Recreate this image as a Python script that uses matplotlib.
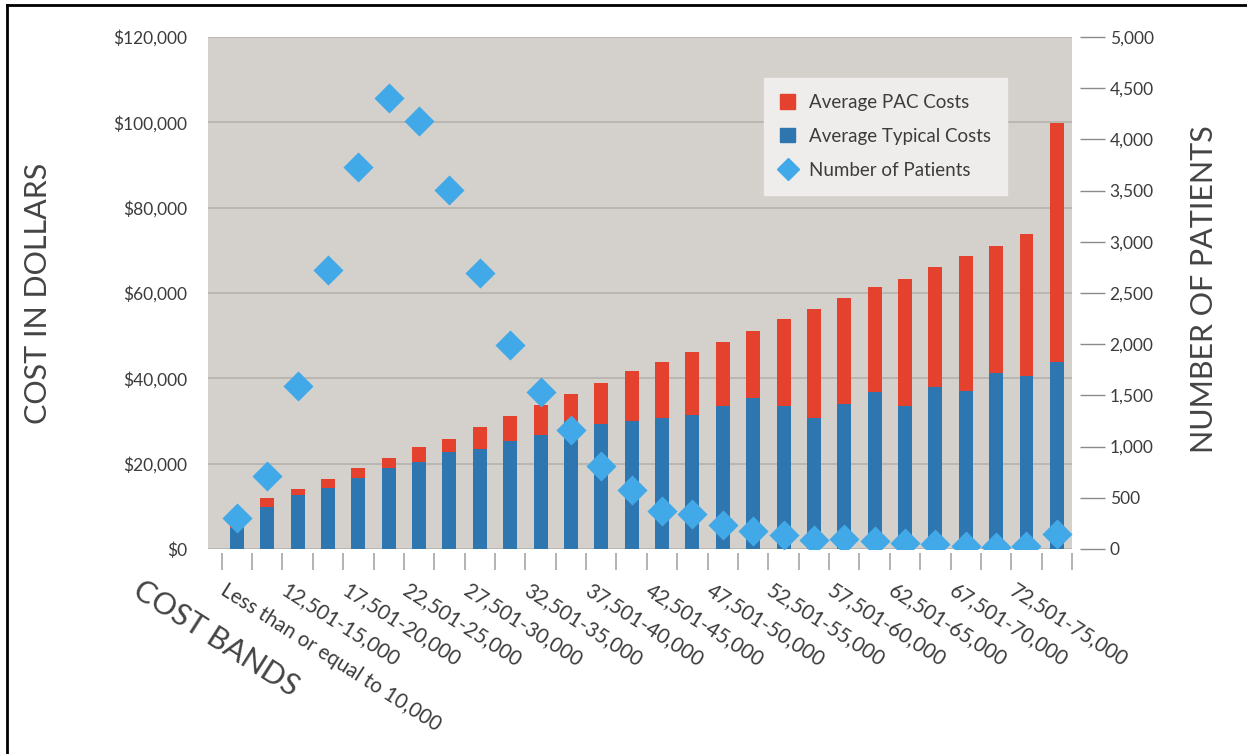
import numpy as np
import matplotlib
matplotlib.use("Agg")
import matplotlib.pyplot as plt
from matplotlib.lines import Line2D
from matplotlib.patches import Patch
from matplotlib.transforms import blended_transform_factory

plt.rcParams['font.family'] = ['Lato', 'DejaVu Sans']

# cost bands, $2,500 wide between the two open-ended ends
bands = ['Less than or equal to 10,000', '10,001-12,500', '12,501-15,000',
         '15,001-17,500', '17,501-20,000', '20,001-22,500', '22,501-25,000',
         '25,001-27,500', '27,501-30,000', '30,001-32,500', '32,501-35,000',
         '35,001-37,500', '37,501-40,000', '40,001-42,500', '42,501-45,000',
         '45,001-47,500', '47,501-50,000', '50,001-52,500', '52,501-55,000',
         '55,001-57,500', '57,501-60,000', '60,001-62,500', '62,501-65,000',
         '65,001-67,500', '67,501-70,000', '70,001-72,500', '72,501-75,000',
         'Greater than 75,000']

typical_costs = [5000, 9900, 12700, 14400, 16700, 18900, 20300, 22800, 23500,
                 25200, 26700, 30000, 29400, 29900, 30800, 31300, 33500, 35300,
                 33500, 30700, 33900, 36700, 33500, 37900, 37100, 41200, 40600,
                 43800]
pac_costs = [1000, 2000, 1400, 1900, 2200, 2400, 3700, 2900, 5000, 6000, 7100,
             6300, 9500, 11800, 13100, 14800, 15000, 15800, 20400, 25500, 24900,
             24800, 29800, 28200, 31600, 29900, 33200, 56100]
patients = [300, 715, 1590, 2725, 3730, 4400, 4180, 3505, 2695, 1990, 1535,
            1160, 810, 575, 375, 340, 235, 180, 140, 90, 100, 75, 55, 45, 30,
            20, 25, 145]

cost_ticks = [0, 20000, 40000, 60000, 80000, 100000, 120000]
patient_ticks = list(range(0, 5001, 500))

RED = '#e5412f'
BLUE = '#2e76b0'
SKY = '#41a9e8'
BG = '#d4d1cd'
TXT = '#3c3c3c'

fig = plt.figure(figsize=(12.47, 7.54), dpi=100)
ax = fig.add_axes([0.1668, 0.2719, 0.6929, 0.6791])
ax.set_facecolor(BG)
x = np.arange(len(bands))

ax.bar(x, typical_costs, width=0.46, color=BLUE, zorder=2)
ax.bar(x, pac_costs, width=0.46, bottom=typical_costs, color=RED, zorder=2)

ax.set_xlim(-0.95, len(bands) - 0.5)
ax.set_ylim(0, 120000)
ax.set_yticks(cost_ticks)
ax.set_yticklabels(['${:,}'.format(v) for v in cost_ticks])
ax.yaxis.grid(True, color='#b5b2ae', linewidth=1.2, zorder=1)
ax.set_axisbelow(True)
ax.tick_params(axis='y', length=0, pad=15, labelsize=12.5, labelcolor=TXT)
for s in ax.spines.values():
    s.set_visible(False)

# tick marks sit on the band boundaries, labels on every other band
ax.set_xticks(np.arange(-0.5, len(bands)), minor=True)
ax.set_xticks([])
ax.spines['bottom'].set_position(('outward', 3))
ax.tick_params(axis='x', which='minor', length=12, width=1.2, color='#a5a5a5')
trans = blended_transform_factory(ax.transData, ax.transAxes)
for i in range(0, len(bands) - 1, 2):
    ax.text(i - 0.3, -0.06, bands[i], transform=trans, rotation=-32.5,
            rotation_mode='anchor', ha='left', va='top', fontsize=14.8,
            color=TXT)

ax.set_ylabel('COST IN DOLLARS', fontsize=22, color='#444444')
ax.yaxis.set_label_coords(-0.181, 0.5)

ax2 = ax.twinx()
ax2.scatter(x, patients, marker='D', s=235, color=SKY, zorder=3, linewidths=0)
ax2.set_ylim(0, 5000)
ax2.set_yticks(patient_ticks)
ax2.set_yticklabels(['{:,}'.format(v) for v in patient_ticks])
for s in ax2.spines.values():
    s.set_visible(False)
ax2.spines['right'].set_position(('outward', 6))
ax2.tick_params(axis='y', length=18, width=1.0, color='#8a8a8a', pad=3,
                labelsize=12.5, labelcolor=TXT)
ax2.set_ylabel('NUMBER OF PATIENTS', fontsize=22, color='#444444')
ax2.yaxis.set_label_coords(1.137, 0.508)

handles = [Patch(color=RED, label='Average PAC Costs'),
           Patch(color=BLUE, label='Average Typical Costs'),
           Line2D([], [], marker='D', linestyle='none', markersize=11,
                  color=SKY, label='Number of Patients')]
leg = ax2.legend(handles=handles, loc='upper right',
                 bbox_to_anchor=(0.925, 0.92), borderaxespad=0, fontsize=13.5,
                 frameon=True, fancybox=False, handlelength=0.8,
                 handleheight=0.8, labelspacing=0.9, borderpad=0.85,
                 handletextpad=0.75)
leg.get_frame().set_facecolor('#eeedeb')
leg.get_frame().set_edgecolor('#eeedeb')
leg.get_frame().set_alpha(1)
for t in leg.get_texts():
    t.set_color(TXT)

fig.text(0.115, 0.236, 'COST BANDS', rotation=-32.5, rotation_mode='anchor',
         ha='left', va='top', fontsize=22, color='#444444')

# page frame
fig.add_artist(Line2D([0.0056, 1.0], [0.9934, 0.9934], color='black', lw=2))
fig.add_artist(Line2D([0.0056, 0.0056], [0.0, 0.9934], color='black', lw=2))

fig.savefig('out.png', dpi=100, facecolor='white')
